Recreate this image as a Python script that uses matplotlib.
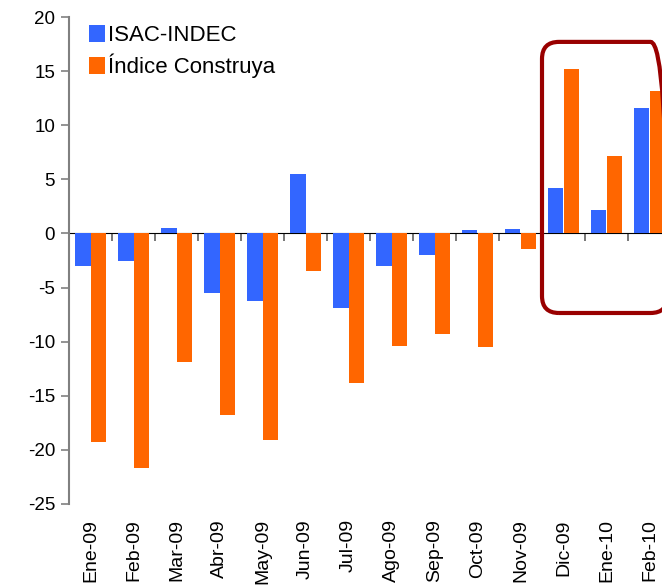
import numpy as np
import matplotlib
matplotlib.use('Agg')
import matplotlib.pyplot as plt
from matplotlib.patches import FancyBboxPatch

plt.rcParams['font.family'] = ['Liberation Sans', 'DejaVu Sans']
plt.rcParams['axes.unicode_minus'] = False

meses = ['Ene-09', 'Feb-09', 'Mar-09', 'Abr-09', 'May-09', 'Jun-09', 'Jul-09',
         'Ago-09', 'Sep-09', 'Oct-09', 'Nov-09', 'Dic-09', 'Ene-10', 'Feb-10']
isac = [-3.0, -2.5, 0.5, -5.5, -6.2, 5.5, -6.9, -3.0, -2.0, 0.3, 0.4, 4.2, 2.2, 11.6]
construya = [-19.3, -21.7, -11.9, -16.8, -19.1, -3.5, -13.8, -10.4, -9.3, -10.5, -1.4, 15.2, 7.2, 13.2]

fig = plt.figure(figsize=(6.62, 5.87), dpi=100)
ax = fig.add_axes([69/662, 83/587, 602/662, 487/587])

x = np.arange(len(meses))
w = 0.35
ax.bar(x - w/2, isac, w, color='#3366FF', label='ISAC-INDEC', zorder=2)
ax.bar(x + w/2, construya, w, color='#FF6600', label='Índice Construya', zorder=2)

ax.set_xlim(-0.5, len(meses) - 0.5)
ax.set_ylim(-25, 20)
ax.set_yticks(range(-25, 21, 5))
ax.tick_params(axis='y', direction='out', length=6, width=1.2, color='#808080',
               labelsize=13.5, pad=4)

# category labels at the bottom
ax.set_xticks(x)
ax.set_xticklabels(meses, rotation=90, fontsize=14)
ax.tick_params(axis='x', length=0, pad=11)

for s in ['top', 'right', 'bottom']:
    ax.spines[s].set_visible(False)
ax.spines['left'].set_color('#808080')
ax.spines['left'].set_linewidth(1.5)

# zero line with separator ticks
sec = ax.secondary_xaxis(25/45)
sec.set_xticks(x[:-1] + 0.5)
sec.set_xticklabels([])
sec.tick_params(direction='in', length=6, width=1.2, color='#606060')
sec.spines['bottom'].set_color('#606060')
sec.spines['bottom'].set_linewidth(1.5)

# highlight box (drawn in inches so the corners stay round)
p0 = ax.transData.transform((10.5, -7.35)) / fig.dpi
p1 = ax.transData.transform((13.42, 17.7)) / fig.dpi
box = FancyBboxPatch(tuple(p0), p1[0] - p0[0], p1[1] - p0[1],
                     boxstyle='round,pad=0,rounding_size=0.17',
                     transform=fig.dpi_scale_trans,
                     fill=False, edgecolor='#990000', linewidth=3, clip_on=False, zorder=3)
fig.add_artist(box)

leg = ax.legend(loc='upper left', bbox_to_anchor=(0.0, 1.025), frameon=False, fontsize=16,
                handlelength=0.7, handleheight=0.8, handletextpad=0.15, labelspacing=0.35)

fig.savefig('out.png', dpi=100)
